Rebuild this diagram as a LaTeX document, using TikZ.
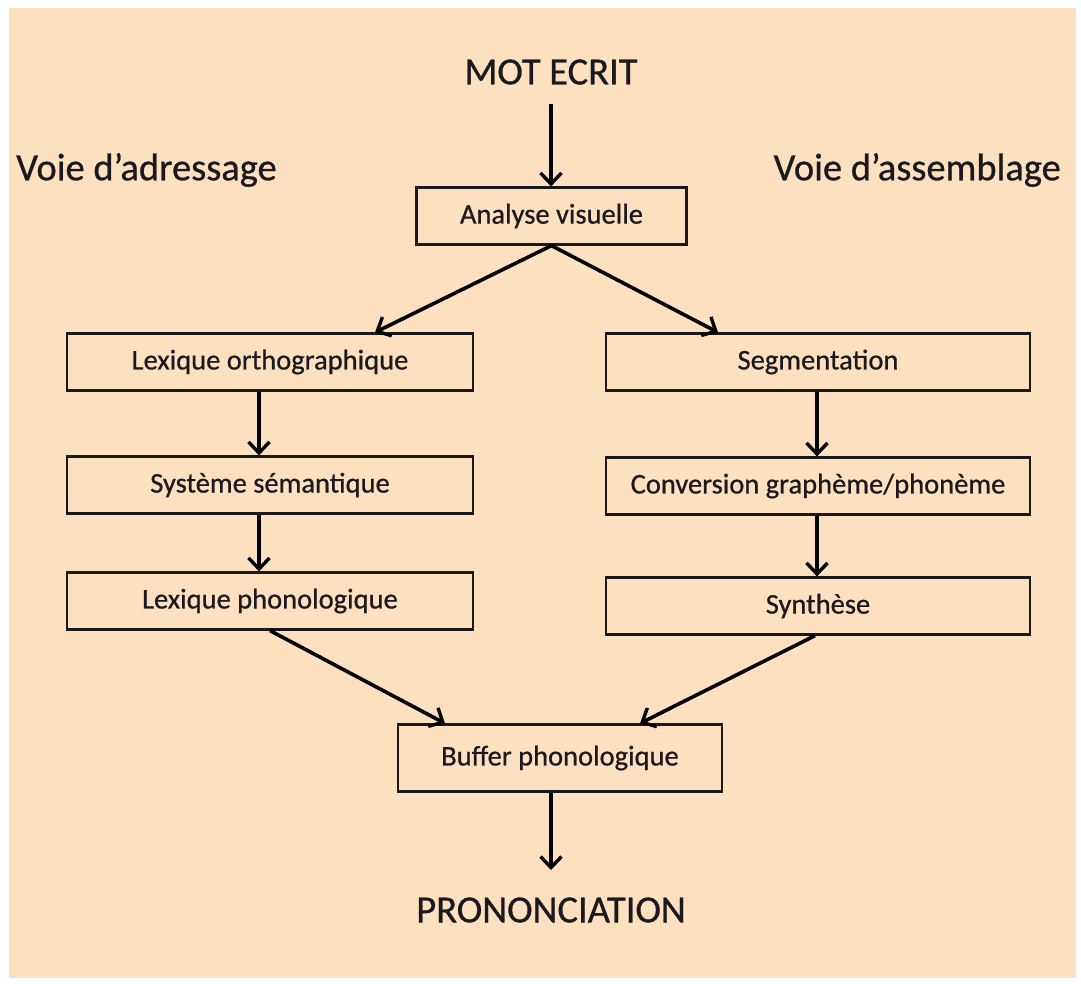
\documentclass[tikz,border=0pt]{standalone}
\usepackage{fontspec}
\setmainfont{Carlito}
\newfontfamily\heavy[FakeBold=0.7]{Carlito}
\usetikzlibrary{arrows.meta,positioning}
\definecolor{peach}{RGB}{253,224,191}
\definecolor{ink}{RGB}{25,25,30}
\tikzset{
  stepbox/.style={draw=ink, line width=2.2pt, minimum height=57pt, inner sep=0pt, font=\heavy\fontsize{28.5}{32}\selectfont, text=ink},
  title/.style={font=\heavy\fontsize{38.5}{42}\selectfont, text=ink, inner sep=0pt},
  conn/.style={line width=3.6pt, draw=black, -{Straight Barb[length=11pt,width=21pt,line width=3.4pt]}}
}
\begin{document}
\begin{tikzpicture}[x=1pt,y=-1pt]
\useasboundingbox (0,0) rectangle (1081,983);
\fill[white] (0,0) rectangle (1081,983);
\fill[peach] (9,8) rectangle (1076,978);
\node[title] (mot) at (551,72) {MOT ECRIT};
\node[title, anchor=west] (adr) at (16,170) {Voie d’adressage};
\node[title, anchor=east] (ass) at (1061,170) {Voie d’assemblage};
\node[stepbox, minimum width=270pt] (av) at (551.5,216) {Analyse visuelle};
\node[stepbox, minimum width=406pt] (lo) at (270,362) {Lexique orthographique};
\node[stepbox, minimum width=406pt] (ss) at (270,485) {Système sémantique};
\node[stepbox, minimum width=406pt] (lp) at (270,601) {Lexique phonologique};
\node[stepbox, minimum width=424pt] (seg) at (818,362) {Segmentation};
\node[stepbox, minimum width=424pt] (conv) at (818,486) {Conversion graphème/phonème};
\node[stepbox, minimum width=424pt] (syn) at (818,606) {Synthèse};
\node[stepbox, minimum width=324pt, minimum height=67pt] (buf) at (560,758) {Buffer phonologique};
\node[title] (pro) at (551,910) {PRONONCIATION};
\coordinate (a1) at (551,104);
\coordinate (a2) at (551,870);
\draw[conn] (a1) -- (av.north -| a1);
\draw[conn] (av.south) -- (lo.north -| 375,0);
\draw[conn] (av.south) -- (seg.north -| 718,0);
\draw[conn] (lo.south -| 259,0) -- (ss.north -| 259,0);
\draw[conn] (ss.south -| 259,0) -- (lp.north -| 259,0);
\draw[conn] (seg.south -| 817,0) -- (conv.north -| 817,0);
\draw[conn] (conv.south -| 817,0) -- (syn.north -| 817,0);
\draw[conn] (lp.south -| 270,0) -- (buf.north -| 445,0);
\draw[conn] (syn.south -| 815,0) -- (buf.north -| 640,0);
\draw[conn] (buf.south -| 551,0) -- (a2);
\end{tikzpicture}
\end{document}
